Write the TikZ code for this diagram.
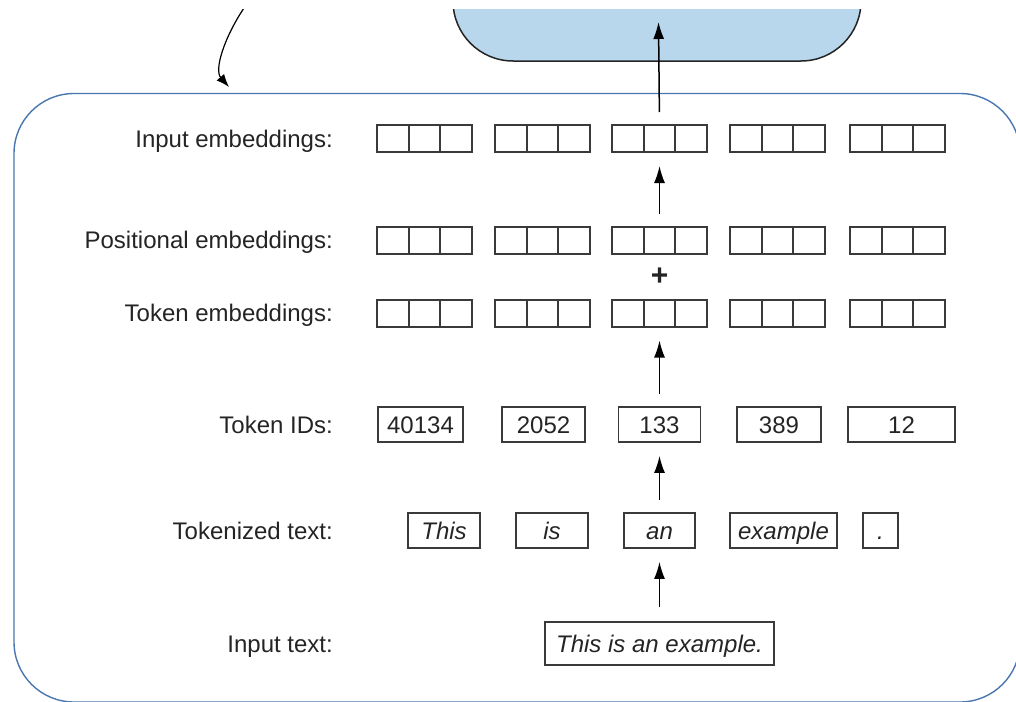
\documentclass[tikz,border=0pt]{standalone}
\usepackage{fontspec}
\setmainfont{Liberation Sans}
\usetikzlibrary{arrows.meta}

\definecolor{ink}{RGB}{36,36,36}
\definecolor{cellline}{RGB}{58,58,58}
\definecolor{frameblue}{RGB}{74,118,176}
\definecolor{boxblue}{RGB}{184,215,236}

\begin{document}
\begin{tikzpicture}[x=1pt,y=-1pt,
  every node/.style={font=\fontsize{24}{28}\selectfont, text=ink},
  lbl/.style={anchor=east, inner sep=0pt, text height=17.2pt, text depth=0pt},
  cell/.style={draw=cellline, line width=2pt, minimum width=31.67pt,
               minimum height=27pt, inner sep=0pt},
  tokbox/.style={draw=cellline, line width=1.8pt, minimum height=35pt,
                 inner sep=0pt, text height=17.2pt, text depth=0pt},
  wordbox/.style={tokbox, font=\fontsize{24}{28}\selectfont\itshape},
  arr/.style={-{Latex[length=17pt,width=11pt]}, line width=1.5pt, black,
              shorten <=12pt, shorten >=13pt},
]
\useasboundingbox (0,0) rectangle (1016,701);
\clip (0,10) rectangle (1016,701);

% encoder block above (only its lower part is in view)
\filldraw[fill=boxblue, draw=ink, line width=1.5pt, rounded corners=60pt]
  (453,-60) -- (453,61) -- (861,61) -- (861,-60);
\coordinate (enc-in) at (658.5,22);

% outer frame of the embedding stage
\draw[frameblue, line width=1.4pt, rounded corners=60pt]
  (14,93.5) rectangle (1020,702);

% curved arrow entering the frame
\coordinate (ca-start) at (244,8);
\coordinate (ca-end) at (229,87);
\draw[-{Latex[length=13pt,width=10pt]}, line width=1.2pt, black]
  (ca-start) .. controls (224,38) and (214,70) .. (ca-end);

% row labels
\node[lbl] (l-ie)  at (333,138.5) {Input embeddings:};
\node[lbl] (l-pe)  at (333,240)   {Positional embeddings:};
\node[lbl] (l-te)  at (333,313)   {Token embeddings:};
\node[lbl] (l-id)  at (333,424.5) {Token IDs:};
\node[lbl] (l-tok) at (333,530.5) {Tokenized text:};
\node[lbl] (l-in)  at (333,643.5) {Input text:};

% embedding vectors: five groups of three cells per row
\foreach \c [count=\i] in {424.5,542.5,659.5,777.5,897.5} {
  \foreach \k in {1,2,3} {
    \node[cell] (ie-\i-\k) at ({\c+(\k-2)*31.67},138.5) {};
    \node[cell] (pe-\i-\k) at ({\c+(\k-2)*31.67},240) {};
    \node[cell] (te-\i-\k) at ({\c+(\k-2)*31.67},313) {};
  }
}
\node[font=\fontsize{30}{34}\selectfont\bfseries, inner sep=0pt] (plus) at (659.5,276.5) {+};

% token IDs
\node[tokbox, minimum width=85pt]  (id1) at (420.5,424.5) {40134};
\node[tokbox, minimum width=83pt]  (id2) at (543.5,424.5) {2052};
\node[tokbox, minimum width=82pt]  (id3) at (659.5,424.5) {133};
\node[tokbox, minimum width=84pt]  (id4) at (779,424.5)   {389};
\node[tokbox, minimum width=107pt] (id5) at (901.5,424.5) {12};

% tokenized text
\node[wordbox, minimum width=72pt]  (tk1) at (444,530.5)   {This};
\node[wordbox, minimum width=72pt]  (tk2) at (552,530.5)   {is};
\node[wordbox, minimum width=71pt]  (tk3) at (659.5,530.5) {an};
\node[wordbox, minimum width=107pt] (tk4) at (783.5,530.5) {example};
\node[wordbox, minimum width=35pt]  (tk5) at (880.5,530.5) {.};

% input text
\node[wordbox, minimum width=229pt, minimum height=43pt] (inp) at (659.5,643.5)
  {This is an example.};

% data flow through the middle column
\draw[arr, shorten <=14pt] (inp.north) -- (tk3.south);
\draw[arr] (tk3.north) -- (id3.south);
\draw[arr] (id3.north) -- (te-3-2.south);
\draw[arr] (pe-3-2.north) -- (ie-3-2.south);
\draw[arr, shorten >=0pt] (ie-3-2.north) -- (enc-in);
\end{tikzpicture}
\end{document}
